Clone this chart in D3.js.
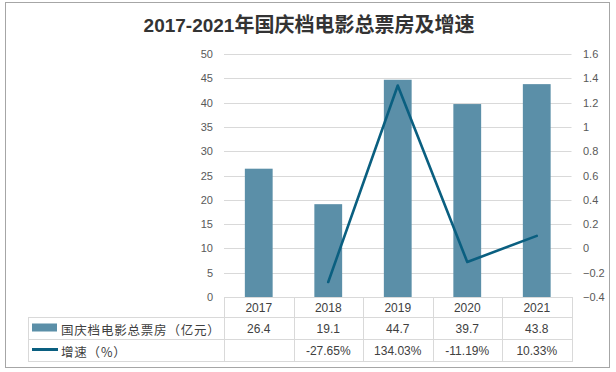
<!DOCTYPE html>
<html><head><meta charset="utf-8">
<script src="https://cdn.jsdelivr.net/npm/d3@7"></script>
<style>body{margin:0;background:#fff}svg{display:block}</style>
</head><body>
<script>
const years = ["2017","2018","2019","2020","2021"];
const boxOffice = [26.4, 19.1, 44.7, 39.7, 43.8];
const growth = [null, -0.2765, 1.3403, -0.1119, 0.1033];
const growthLabels = ["", "-27.65%", "134.03%", "-11.19%", "10.33%"];
const leftTicks = [0,5,10,15,20,25,30,35,40,45,50];
const rightTicks = [-0.4,-0.2,0,0.2,0.4,0.6,0.8,1,1.2,1.4,1.6];
const title = "2017-2021年国庆档电影总票房及增速";
const seriesNames = ["国庆档电影总票房（亿元）", "增速（%）"];

const W = 616, H = 372;
const barColor = "#5b8fa8", lineColor = "#0a5f80", grid = "#d9d9d9", txt = "#595959", tbl = "#404040";
const cjk = "'Noto Sans CJK SC', 'Noto Sans', sans-serif";
const lat = "'Liberation Sans', 'DejaVu Sans', sans-serif";

const svg = d3.select("body").append("svg").attr("width", W).attr("height", H);
svg.append("rect").attr("x",5.5).attr("y",2.5).attr("width",604).attr("height",365)
  .attr("fill","#fff").attr("stroke","#a6a6a6").attr("stroke-width",1);

const x0 = 224, x1 = 571.5, yTop = 54, yBot = 297;
const x = d3.scaleBand().domain(years).range([x0, x1]).paddingInner(0.6).paddingOuter(0.3);
const xb = d3.scaleBand().domain(years).range([x0, x1]);
const yL = d3.scaleLinear().domain([0,50]).range([yBot, yTop]);
const yR = d3.scaleLinear().domain([-0.4,1.6]).range([yBot, yTop]);

// title
const t = svg.append("text").attr("x", 309).attr("y", 32).attr("text-anchor","middle")
  .attr("font-weight","bold").attr("fill","#333");
t.append("tspan").attr("font-family", lat).attr("font-size", 19).text(title.slice(0,9));
t.append("tspan").attr("font-family", cjk).attr("font-size", 20).text(title.slice(9));

// gridlines
svg.append("g").selectAll("line").data(leftTicks.slice(1)).join("line")
  .attr("x1", x0).attr("x2", x1).attr("y1", d=>Math.round(yL(d))+0.5).attr("y2", d=>Math.round(yL(d))+0.5)
  .attr("stroke", grid).attr("stroke-width",1);

// left axis
const gl = svg.append("g").attr("transform","translate(213,0)")
  .call(d3.axisLeft(yL).tickValues(leftTicks).tickSize(0).tickPadding(0));
gl.select(".domain").remove();
gl.selectAll("text").attr("font-family", lat).attr("font-size", 11).attr("fill", txt);

// right axis
const gr = svg.append("g").attr("transform","translate(583,0)")
  .call(d3.axisRight(yR).tickValues(rightTicks).tickSize(0).tickPadding(0).tickFormat(d3.format("")));
gr.select(".domain").remove();
gr.selectAll("text").attr("font-family", lat).attr("font-size", 11).attr("fill", txt);

// bars
svg.append("g").selectAll("rect").data(boxOffice).join("rect")
  .attr("x", (d,i)=>x(years[i])).attr("width", x.bandwidth())
  .attr("y", d=>yL(d)).attr("height", d=>yBot - yL(d)).attr("fill", barColor);

// line
const lineData = growth.map((v,i)=>({k:years[i], v})).filter(d=>d.v!==null);
svg.append("path").datum(lineData)
  .attr("d", d3.line().x(d=>xb(d.k)+xb.bandwidth()/2).y(d=>yR(d.v)))
  .attr("fill","none").attr("stroke", lineColor).attr("stroke-width", 2.6).attr("stroke-linecap","round").attr("stroke-linejoin","round");

// data table
const r0 = 297, r1 = 317, r2 = 339, r3 = 361, tl = 28;
const tg = svg.append("g").attr("stroke", grid).attr("stroke-width",1).attr("shape-rendering","crispEdges");
[r1, r2, r3].forEach(yy=>tg.append("line").attr("x1", tl).attr("x2", x1).attr("y1", yy+0.5).attr("y2", yy+0.5));
tg.append("line").attr("x1", x0).attr("x2", x1).attr("y1", r0+0.5).attr("y2", r0+0.5);
tg.append("line").attr("x1", tl+0.5).attr("x2", tl+0.5).attr("y1", r1).attr("y2", r3+1);
const bounds = years.map(y=>xb(y)).concat([xb(years[4])+xb.bandwidth()]);
bounds.forEach(bx=>tg.append("line").attr("x1", Math.round(bx)+0.5).attr("x2", Math.round(bx)+0.5).attr("y1", r0).attr("y2", r3+1));

const cell = (row, yy, arr)=>svg.append("g").selectAll("text").data(arr).join("text")
  .attr("x", (d,i)=>xb(years[i])+xb.bandwidth()/2).attr("y", yy).attr("text-anchor","middle")
  .attr("dominant-baseline","central").attr("font-family", lat).attr("font-size", 12).attr("fill", tbl).text(d=>d);
cell(0, (r0+r1)/2+1, years);
cell(1, (r1+r2)/2+1, boxOffice.map(d=>d.toFixed(1)));
cell(2, (r2+r3)/2+1, growthLabels);

// legend keys
svg.append("rect").attr("x", 32).attr("y", 323.5).attr("width", 25).attr("height", 8).attr("fill", barColor);
svg.append("line").attr("x1", 32).attr("x2", 58).attr("y1", 349.5).attr("y2", 349.5).attr("stroke", lineColor).attr("stroke-width", 3);
svg.append("text").attr("x", 61).attr("y", (r1+r2)/2+1).attr("dominant-baseline","central")
  .attr("font-family", cjk).attr("font-size", 12.5).attr("letter-spacing", 0.8).attr("fill", tbl).text(seriesNames[0]);
svg.append("text").attr("x", 61).attr("y", (r2+r3)/2+1).attr("dominant-baseline","central")
  .attr("font-family", cjk).attr("font-size", 12.5).attr("letter-spacing", 0.8).attr("fill", tbl).text(seriesNames[1]);
</script>
</body></html>
